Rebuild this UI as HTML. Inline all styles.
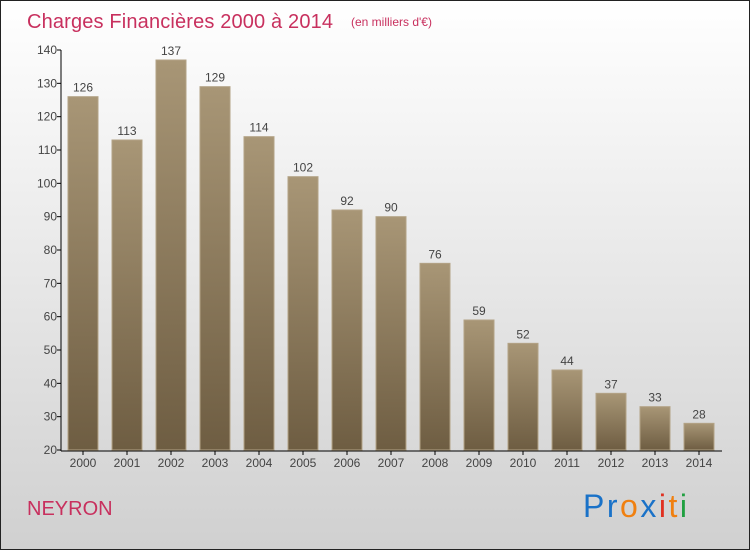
<!DOCTYPE html>
<html><head><meta charset="utf-8"><style>
body{margin:0}
#c{width:748px;height:548px;border:1px solid #222;background:linear-gradient(#ffffff,#d0d0d0);position:relative;font-family:"Liberation Sans",sans-serif;overflow:hidden}
</style></head><body>
<div id="c">
<svg width="748" height="548">
<defs><linearGradient id="g" x1="0" y1="0" x2="0" y2="1"><stop offset="0" stop-color="#a89676"/><stop offset="1" stop-color="#6e5d42"/></linearGradient></defs>
<text x="26" y="27" font-size="20" fill="#c8305e" textLength="306">Charges Financières 2000 à 2014</text>
<text x="350" y="25" font-size="12" fill="#c8305e">(en milliers d'€)</text>
<text x="26" y="514" font-size="20" fill="#c8305e">NEYRON</text>
<g font-size="32" font-family="Liberation Sans,sans-serif">
<text x="582" y="516" textLength="104"><tspan fill="#1a72c8">Pr</tspan><tspan fill="#f08010">o</tspan><tspan fill="#1a72c8">x</tspan><tspan fill="#e03020">i</tspan><tspan fill="#f08010">t</tspan><tspan fill="#20a040">i</tspan></text></g>
<g id="plot"></g>
</svg></div>
<script>
const years=["2000","2001","2002","2003","2004","2005","2006","2007","2008","2009","2010","2011","2012","2013","2014"];
const values=[126,113,137,129,114,102,92,90,76,59,52,44,37,33,28];
const yTicks=[20,30,40,50,60,70,80,90,100,110,120,130,140];
const NS="http://www.w3.org/2000/svg",p=document.getElementById('plot');
const y=v=>449-(v-20)*400/120, x=i=>82+44*i;
function el(t,a,par){const e=document.createElementNS(NS,t);for(const k in a)e.setAttribute(k,a[k]);(par||p).appendChild(e);return e;}
values.forEach((v,i)=>{
 const r=el('rect',{x:x(i)-15,y:y(v),width:30,height:449-y(v),fill:'url(#g)',stroke:'#b3a386','stroke-width':1});
 
 
 const t=el('text',{x:x(i),y:y(v)-5,'text-anchor':'middle','font-size':12,fill:'#444'});t.textContent=v;
 
 
 const l=el('text',{x:x(i),y:466,'text-anchor':'middle','font-size':12,fill:'#444'});l.textContent=years[i];
 
 
 el('line',{x1:x(i),x2:x(i),y1:450,y2:454,stroke:'#000'});
});
yTicks.forEach(v=>{
 el('line',{x1:56,x2:60,y1:y(v),y2:y(v),stroke:'#000'});
 const t=el('text',{x:56,y:y(v)+4,'text-anchor':'end','font-size':12,fill:'#444'});t.textContent=v;
 
 
});
const ya=el('line',{x1:60,x2:60,y1:y(140),y2:450,stroke:'#000'});


const xa=el('line',{x1:60,x2:721,y1:450,y2:450,stroke:'#000'});


</script>
</body></html>
